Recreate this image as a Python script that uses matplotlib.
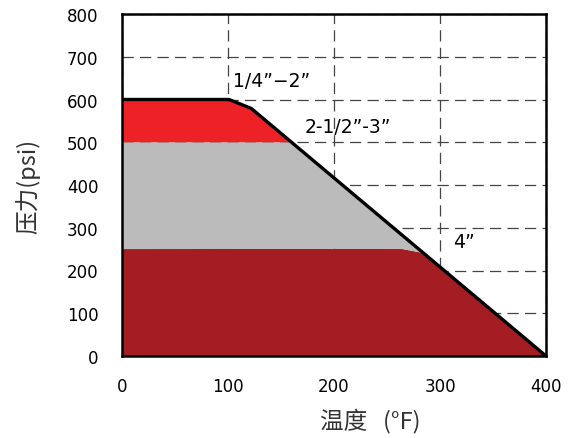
import matplotlib.pyplot as plt

plt.rcParams['font.family'] = ['DejaVu Sans', 'Noto Sans CJK SC']

# pressure / temperature rating curve
curve_t = [0, 101, 122, 400]
curve_p = [600, 600, 579, 0]

# bands (temperature, pressure outlines)
red_t = [0, 0, 101, 122, 160]
red_p = [500, 600, 600, 579, 500]

gray_t = [0, 0, 160, 284, 263]
gray_p = [250, 500, 500, 241, 251]

dark_t = [0, 0, 263, 284, 400]
dark_p = [0, 251, 251, 241, 0]

sizes = ['1/4”−2”', '2-1/2”-3”', '4”']
label_t = [105, 172, 312]
label_p = [645, 536, 267]

fig = plt.figure(figsize=(5.72, 4.39), dpi=100)
ax = fig.add_axes([122 / 572, 82 / 439, 424 / 572, 342 / 439])

ax.fill(dark_t, dark_p, color='#a31d23', lw=0, zorder=2)
ax.fill(gray_t, gray_p, color='#bbbbbb', lw=0, zorder=2)
ax.fill(red_t, red_p, color='#ee2127', lw=0, zorder=2)
ax.plot(curve_t, curve_p, color='black', lw=2.4, zorder=3,
        solid_joinstyle='miter')

for s, t, p in zip(sizes, label_t, label_p):
    ax.text(t, p, s, fontsize=13.5, va='center', ha='left', zorder=4)

ax.set_xlim(0, 400)
ax.set_ylim(0, 800)
ax.set_xticks([0, 100, 200, 300, 400])
ax.set_yticks(range(0, 801, 100))
ax.grid(True, color='#444444', linestyle=(0, (9, 5)), lw=0.9, zorder=1)
ax.set_axisbelow(True)
ax.tick_params(length=0, labelsize=12)
ax.tick_params(axis='y', pad=17)
ax.tick_params(axis='x', pad=15)
for sp in ax.spines.values():
    sp.set_linewidth(1.8)
    sp.set_zorder(5)

ax.set_xlabel('温度   (°F)', fontsize=17, color='#333333',
              family=['Noto Sans CJK SC', 'DejaVu Sans'])
ax.xaxis.set_label_coords(0.585, -0.15)
ax.set_ylabel('压力(psi)', fontsize=17, labelpad=19, color='#333333',
              family=['Noto Sans CJK SC', 'DejaVu Sans'])

fig.savefig('out.png', dpi=100)
